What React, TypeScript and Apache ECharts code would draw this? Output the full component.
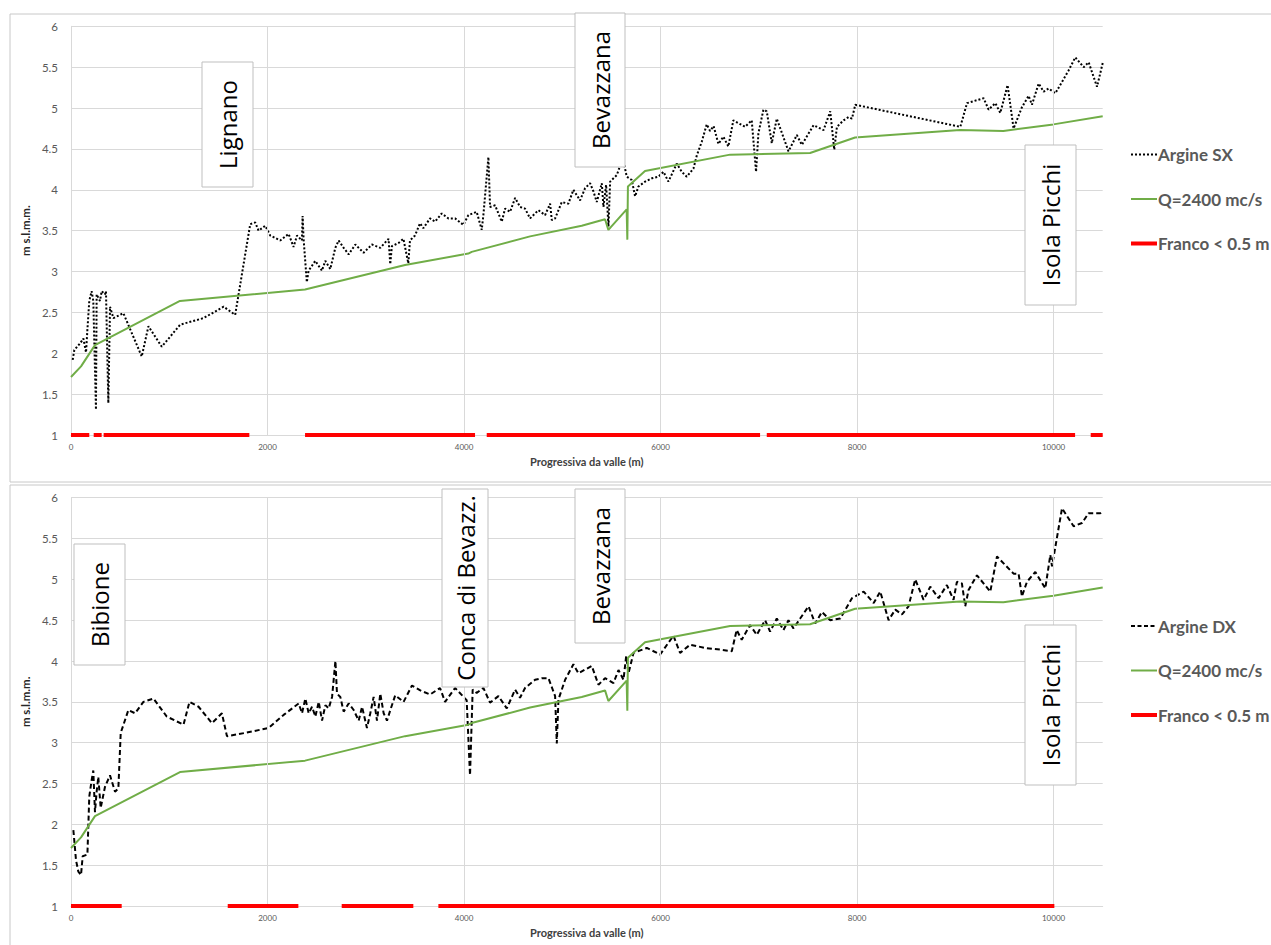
import React, { useEffect, useRef } from "react";
import * as echarts from "echarts";

// ---------- DATA ----------
const xGridTicks = [2000, 4000, 6000, 8000, 10000];

const q2400 = [
  [0, 1.71], [102, 1.84], [244, 2.1], [1109, 2.64], [2382, 2.78], [3400, 3.08], [4044, 3.22],
  [4078, 3.24], [4672, 3.43], [5198, 3.56], [5435, 3.64], [5469, 3.51], [5655, 3.76], [5662, 3.39],
  [5668, 4.04], [5842, 4.23], [6708, 4.43], [7522, 4.45], [7980, 4.64], [9048, 4.73], [9489, 4.72],
  [9998, 4.8], [10500, 4.9],
];

const argineSX = [
  [17, 1.92], [34, 2.04], [92, 2.12], [126, 2.18], [153, 2.01], [167, 2.29], [186, 2.64], [210, 2.76],
  [227, 2.64], [254, 1.31], [261, 2.72], [295, 2.64], [312, 2.76], [346, 2.72], [356, 2.76], [380, 1.39],
  [397, 2.57], [431, 2.43], [533, 2.49], [720, 1.96], [788, 2.33], [924, 2.08], [1111, 2.35], [1349, 2.43],
  [1553, 2.57], [1671, 2.47], [1824, 3.58], [1875, 3.6], [1909, 3.5], [1977, 3.56], [2028, 3.44], [2130, 3.38],
  [2215, 3.46], [2265, 3.3], [2300, 3.44], [2350, 3.38], [2357, 3.68], [2367, 3.4], [2400, 2.87], [2418, 3.01],
  [2486, 3.13], [2554, 3.01], [2588, 3.13], [2639, 3.03], [2690, 3.29], [2724, 3.38], [2775, 3.29], [2826, 3.21],
  [2894, 3.33], [2978, 3.23], [3063, 3.33], [3148, 3.29], [3232, 3.4], [3249, 3.09], [3266, 3.31], [3334, 3.35],
  [3383, 3.4], [3433, 3.1], [3450, 3.38], [3501, 3.44], [3552, 3.59], [3586, 3.53], [3654, 3.65], [3705, 3.61],
  [3773, 3.71], [3841, 3.65], [3909, 3.65], [3994, 3.57], [4044, 3.69], [4129, 3.73], [4180, 3.51], [4197, 3.69],
  [4248, 4.4], [4265, 3.79], [4316, 3.81], [4384, 3.61], [4418, 3.77], [4469, 3.73], [4520, 3.9], [4570, 3.79],
  [4621, 3.77], [4672, 3.65], [4757, 3.75], [4825, 3.69], [4876, 3.83], [4893, 3.63], [4927, 3.65], [4995, 3.85],
  [5062, 3.83], [5113, 4.0], [5181, 3.87], [5232, 4.02], [5283, 4.08], [5317, 3.98], [5351, 3.85], [5402, 4.08],
  [5419, 3.79], [5446, 4.06], [5470, 3.55], [5487, 4.1], [5555, 4.18], [5616, 4.39], [5656, 4.16], [5707, 4.12],
  [5741, 3.92], [5775, 4.04], [5843, 4.1], [5911, 4.14], [5979, 4.16], [6030, 4.22], [6080, 4.1], [6165, 4.32],
  [6216, 4.22], [6267, 4.16], [6335, 4.26], [6369, 4.42], [6420, 4.59], [6470, 4.8], [6504, 4.72], [6540, 4.78],
  [6589, 4.56], [6639, 4.65], [6690, 4.53], [6741, 4.85], [6860, 4.77], [6928, 4.85], [6972, 4.22], [6996, 4.69],
  [7047, 4.98], [7081, 4.96], [7132, 4.57], [7183, 4.87], [7302, 4.47], [7387, 4.67], [7438, 4.55], [7557, 4.79],
  [7659, 4.73], [7727, 4.96], [7768, 4.49], [7795, 4.77], [7863, 4.85], [7914, 4.89], [7948, 4.87], [7982, 5.04],
  [9051, 4.77], [9119, 5.06], [9288, 5.12], [9339, 4.98], [9407, 5.06], [9458, 4.94], [9532, 5.28], [9593, 4.75],
  [9678, 5.01], [9746, 5.15], [9780, 5.04], [9848, 5.3], [9899, 5.2], [9950, 5.24], [10018, 5.18], [10086, 5.32],
  [10153, 5.46], [10221, 5.62], [10306, 5.5], [10357, 5.56], [10442, 5.26], [10500, 5.55],
];

const argineDX = [
  [24, 1.93], [51, 1.56], [75, 1.42], [102, 1.38], [119, 1.61], [167, 1.63], [186, 2.34], [210, 2.54],
  [227, 2.66], [244, 2.15], [261, 2.4], [278, 2.58], [302, 2.2], [346, 2.46], [397, 2.6], [448, 2.4],
  [482, 2.44], [506, 3.12], [584, 3.4], [652, 3.36], [737, 3.5], [839, 3.54], [975, 3.32], [1145, 3.22],
  [1206, 3.5], [1298, 3.44], [1434, 3.24], [1536, 3.36], [1587, 3.08], [1774, 3.12], [2012, 3.18], [2164, 3.34],
  [2317, 3.48], [2351, 3.36], [2385, 3.54], [2419, 3.36], [2453, 3.44], [2487, 3.32], [2521, 3.5], [2555, 3.27],
  [2589, 3.46], [2623, 3.42], [2657, 3.56], [2691, 4.0], [2707, 3.6], [2741, 3.56], [2775, 3.38], [2826, 3.48],
  [2877, 3.4], [2928, 3.27], [2962, 3.44], [3012, 3.18], [3046, 3.36], [3080, 3.56], [3114, 3.27], [3148, 3.6],
  [3182, 3.36], [3216, 3.27], [3250, 3.4], [3300, 3.58], [3385, 3.5], [3470, 3.7], [3555, 3.64], [3654, 3.59],
  [3756, 3.67], [3807, 3.5], [3909, 3.67], [4027, 3.52], [4061, 2.6], [4088, 3.65], [4129, 3.61], [4197, 3.67],
  [4265, 3.49], [4350, 3.57], [4435, 3.42], [4520, 3.65], [4570, 3.55], [4621, 3.67], [4723, 3.77], [4791, 3.79],
  [4859, 3.79], [4927, 3.57], [4944, 2.99], [4961, 3.53], [5029, 3.77], [5113, 3.96], [5164, 3.85], [5300, 3.94],
  [5368, 3.71], [5436, 3.79], [5521, 3.73], [5572, 3.89], [5623, 3.77], [5650, 4.06], [5674, 3.85], [5725, 4.1],
  [5860, 4.16], [5996, 4.08], [6131, 4.31], [6199, 4.1], [6301, 4.2], [6454, 4.16], [6606, 4.14], [6725, 4.12],
  [6775, 4.38], [6826, 4.26], [6911, 4.44], [6979, 4.32], [7064, 4.5], [7115, 4.36], [7183, 4.52], [7251, 4.38],
  [7302, 4.5], [7353, 4.4], [7421, 4.52], [7506, 4.67], [7574, 4.46], [7642, 4.6], [7727, 4.5], [7829, 4.52],
  [7948, 4.77], [8067, 4.85], [8169, 4.71], [8236, 4.85], [8321, 4.5], [8389, 4.63], [8457, 4.57], [8524, 4.67],
  [8592, 5.0], [8677, 4.75], [8745, 4.91], [8830, 4.77], [8914, 4.93], [8982, 4.75], [9016, 4.97], [9067, 4.95],
  [9101, 4.67], [9135, 4.87], [9220, 5.05], [9356, 4.85], [9424, 5.28], [9593, 5.07], [9644, 5.07], [9678, 4.79],
  [9729, 4.97], [9814, 5.09], [9916, 4.89], [9967, 5.3], [9984, 5.16], [10086, 5.87], [10204, 5.65], [10289, 5.69],
  [10357, 5.81], [10476, 5.81], [10500, 5.83],
];

// stretches where freeboard < 0.5 m (start, end)
const francoSX = [[0, 186], [231, 312], [332, 1815], [2382, 4112], [4231, 7013], [7081, 10219], [10378, 10500]];
const francoDX = [[0, 516], [1595, 2314], [2755, 3484], [3739, 10008]];
const francoLevel = 1;

// ---------- STYLE ----------
const GREEN = "#70AD47";
const RED = "#FF0000";
const GRID_C = "#D9D9D9";
const LABEL_C = "#595959";

function segData(segs: number[][]) {
  const out: any[] = [];
  segs.forEach(([s, e]) => {
    out.push([s, francoLevel], [e, francoLevel], [e, "-"]);
  });
  return out;
}

const axisX = (gi: number) => ({
  gridIndex: gi,
  type: "value",
  min: 0,
  max: 10500,
  interval: 2000,
  axisLine: { show: true, lineStyle: { color: GRID_C, width: 1 } },
  axisTick: { show: false },
  splitLine: { show: false },
  axisLabel: {
    color: LABEL_C,
    fontSize: 8,
    fontFamily: "Lato",
    margin: 8,
    showMaxLabel: false,
    formatter: (v: number) => String(v),
  },
  name: "Progressiva da valle (m)",
  nameLocation: "middle",
  nameGap: 21,
  nameTextStyle: { fontWeight: "bold", fontSize: 11, color: "#404040", fontFamily: "Lato" },
});

const axisY = (gi: number) => ({
  gridIndex: gi,
  type: "value",
  min: 1,
  max: 6,
  interval: 0.5,
  axisLine: { show: true, lineStyle: { color: GRID_C, width: 1 } },
  axisTick: { show: false },
  splitLine: { show: true, lineStyle: { color: GRID_C, width: 1 } },
  axisLabel: { color: LABEL_C, fontSize: 11.5, fontFamily: "Lato", margin: 13 },
  name: "m s.l.m.m.",
  nameLocation: "middle",
  nameGap: 33,
  nameTextStyle: { fontWeight: "bold", fontSize: 11.5, color: "#262626", fontFamily: "Lato" },
});

function seriesFor(gi: number, argName: string, argData: number[][], dash: number[], franco: number[][]) {
  return [
    {
      type: "line",
      name: "grid" + gi,
      xAxisIndex: gi,
      yAxisIndex: gi,
      data: [],
      z: 1,
      silent: true,
      markLine: {
        silent: true,
        symbol: "none",
        label: { show: false },
        lineStyle: { color: GRID_C, type: "solid", width: 1 },
        data: xGridTicks.map((v) => ({ xAxis: v })),
      },
    },
    {
      type: "line",
      name: argName,
      xAxisIndex: gi,
      yAxisIndex: gi,
      data: argData,
      showSymbol: false,
      symbol: "none",
      lineStyle: { color: "#000", width: 2, type: dash },
      z: 3,
    },
    {
      type: "line",
      name: "Q=2400 mc/s",
      xAxisIndex: gi,
      yAxisIndex: gi,
      data: q2400,
      showSymbol: false,
      symbol: "none",
      lineStyle: { color: GREEN, width: 2 },
      z: 4,
    },
    {
      type: "line",
      name: "Franco < 0.5 m",
      xAxisIndex: gi,
      yAxisIndex: gi,
      data: segData(franco),
      connectNulls: false,
      clip: false,
      showSymbol: false,
      symbol: "none",
      lineStyle: { color: RED, width: 4 },
      z: 5,
    },
  ];
}

function labelBox(x: number, y: number, w: number, h: number, text: string) {
  return [
    {
      type: "rect",
      shape: { x, y, width: w, height: h },
      style: { fill: "#fff", stroke: "#BFBFBF", lineWidth: 1 },
      z: 20,
    },
    {
      type: "text",
      x: x + w / 2,
      y: y + h / 2,
      rotation: Math.PI / 2,
      style: {
        text,
        fontSize: 24,
        fontFamily: "Open Sans",
        fill: "#000",
        align: "center",
        verticalAlign: "middle",
      },
      z: 21,
    },
  ];
}

function legendItems(top: number, argName: string, dash: number[]) {
  const items: any[] = [];
  const entries: any[] = [
    { name: argName, stroke: "#000", lw: 2, dash },
    { name: "Q=2400 mc/s", stroke: GREEN, lw: 2, dash: null },
    { name: "Franco < 0.5 m", stroke: RED, lw: 4, dash: null },
  ];
  entries.forEach((e, i) => {
    const y = top + i * 44.5;
    items.push({
      type: "line",
      shape: { x1: 1131, y1: y, x2: 1157, y2: y },
      style: { stroke: e.stroke, lineWidth: e.lw, lineDash: e.dash || undefined },
      z: 20,
    });
    items.push({
      type: "text",
      x: 1158,
      y,
      style: {
        text: e.name,
        fontSize: 17,
        fontWeight: "bold",
        fontFamily: "Lato",
        fill: LABEL_C,
        align: "left",
        verticalAlign: "middle",
      },
      z: 20,
    });
  });
  return items;
}

export default function App() {
  const ref = useRef<HTMLDivElement>(null);
  useEffect(() => {
    if (!ref.current) return;
    const chart = echarts.init(ref.current, null, { renderer: "svg" });
    const graphic: any[] = [
      { type: "rect", shape: { x: 10, y: 14, width: 1300, height: 468 }, style: { fill: "none", stroke: "#C8C8C8", lineWidth: 1 }, z: 0 },
      { type: "rect", shape: { x: 10, y: 485, width: 1300, height: 500 }, style: { fill: "none", stroke: "#C8C8C8", lineWidth: 1 }, z: 0 },
      ...labelBox(202, 62, 51, 125, "Lignano"),
      ...labelBox(575, 13, 50, 154, "Bevazzana"),
      ...labelBox(1025, 145, 51, 160, "Isola Picchi"),
      ...labelBox(74, 544, 51, 121, "Bibione"),
      ...labelBox(442, 489, 46, 198, "Conca di Bevazz."),
      ...labelBox(575, 489, 50, 154, "Bevazzana"),
      ...labelBox(1025, 625, 51, 160, "Isola Picchi"),
      ...legendItems(154.5, "Argine SX", [2, 2]),
      ...legendItems(626, "Argine DX", [4, 2.5]),
    ];
    chart.setOption({
      animation: false,
      backgroundColor: "#fff",
      grid: [
        { left: 71, top: 26.3, width: 1031.7, height: 408.7 },
        { left: 71, top: 497.7, width: 1031.7, height: 408.3 },
      ],
      xAxis: [axisX(0), axisX(1)],
      yAxis: [axisY(0), axisY(1)],
      series: [
        ...seriesFor(0, "Argine SX", argineSX, [2, 2], francoSX),
        ...seriesFor(1, "Argine DX", argineDX, [5, 3], francoDX),
      ],
      graphic,
    });
    return () => chart.dispose();
  }, []);
  return (
    <div
      ref={ref}
      style={{ position: "absolute", left: 0, top: 0, width: 1271, height: 945, background: "#fff" }}
    />
  );
}
